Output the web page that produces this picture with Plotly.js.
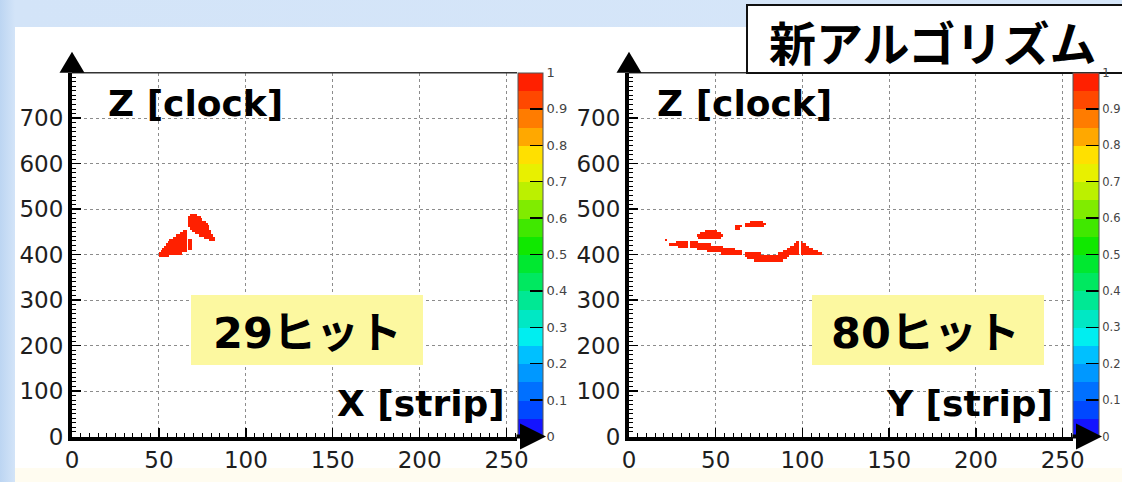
<!DOCTYPE html>
<html>
<head>
<meta charset="utf-8">
<script src="https://cdn.plot.ly/plotly-3.0.1.min.js"></script>
<style>
  html, body { margin: 0; padding: 0; overflow: hidden; width: 1122px; height: 482px; }
  #wrap {
    width: 1122px; height: 482px; overflow: hidden; position: relative;
    background: linear-gradient(to right, #bcd5f2 0px, #d3e4f8 15px, #d6e6f9 100%);
  }
  #chart { width: 1150px; height: 482px; }
</style>
</head>
<body>
<div id="wrap"><div id="chart"></div></div>
<script>
// ---------------- data ----------------
// Hit runs: [z bin lower edge (clock), first strip, last strip]
const xHitRuns = [
  [395, 50, 55], [400, 50, 62], [405, 51, 65],
  [410, 52, 65], [410, 67, 68], [415, 53, 65], [415, 67, 68],
  [420, 54, 65], [420, 67, 68], [425, 55, 65], [425, 67, 68],
  [430, 56, 65], [430, 67, 68], [435, 58, 65], [440, 60, 65],
  [445, 62, 65], [450, 64, 65],
  [485, 68, 71], [480, 67, 73], [475, 67, 74], [470, 67, 76],
  [465, 67, 77], [460, 67, 78], [455, 68, 78], [450, 69, 79],
  [445, 71, 79], [440, 73, 80], [435, 76, 81], [430, 79, 81]
];
const yHitRuns = [
  [430, 21, 21],
  [425, 27, 33], [420, 23, 33], [415, 28, 33],
  [425, 35, 39], [420, 35, 46], [415, 35, 53], [410, 39, 60], [405, 45, 64], [400, 53, 64],
  [400, 67, 75], [395, 67, 91], [390, 68, 90], [385, 72, 88],
  [400, 86, 97], [405, 89, 97], [410, 91, 97], [415, 93, 97], [420, 95, 97], [425, 96, 97],
  [425, 99, 99], [420, 99, 101], [415, 99, 103], [410, 99, 105], [405, 99, 108], [400, 99, 110],
  [450, 44, 50], [445, 41, 52], [440, 39, 53], [435, 40, 52],
  [455, 61, 63], [460, 61, 64], [460, 67, 77], [465, 67, 78], [470, 70, 76]
];
const xTickVals = [0, 50, 100, 150, 200, 250];
const xTickText = ['0', '50', '100', '150', '200', '250'];
const zTickVals = [0, 100, 200, 300, 400, 500, 600, 700];
const zTickText = ['0', '100', '200', '300', '400', '500', '600', '700'];
const stripMax = 256, clockMax = 800;
const leftTitle = 'X [strip]', rightTitle = 'Y [strip]', zTitle = 'Z [clock]';
const leftHits = '29ヒット', rightHits = '80ヒット';
const headline = '新アルゴリズム';
// ROOT-like rainbow palette, 20 levels from 0 to 1
const paletteColors = ['#1414ff', '#0048ff', '#0070ff', '#0098ff', '#00c0ff',
  '#00eef0', '#00e8c4', '#00e894', '#00e860', '#00e830',
  '#10e800', '#40e800', '#80ec00', '#bcf000', '#e8f000',
  '#ffe000', '#ffa800', '#ff7c00', '#ff4800', '#ff2000'];

// ---------------- build ----------------
const NX = 256, ZBIN = 5, NZ = clockMax / ZBIN;
function buildGrid(runs) {
  const g = Array.from({ length: NZ }, () => new Array(NX).fill(null));
  runs.forEach(([zc, a, b]) => {
    const r = Math.round(zc / ZBIN);
    for (let i = a; i <= b; i++) g[r][i] = 1;
  });
  return g;
}
const colorscale = [];
paletteColors.forEach((c, i) => {
  colorscale.push([i / paletteColors.length, c]);
  colorscale.push([(i + 1) / paletteColors.length, c]);
});

// paper is 1150 wide (clipped to the 1122 window) so the right colour bar needs no extra margin
const W = 1150, H = 482;
const px = v => v / W;
const py = v => 1 - v / H;
const yDom = [py(436.5), py(72.7)];
const xDomL = [px(72), px(517)];
const xDomR = [px(629), px(1073)];

function colorbar(xpos, thick, fsize) {
  return {
    x: xpos, xanchor: 'left', xpad: 0, ypad: 0,
    y: yDom[0], yanchor: 'bottom', len: yDom[1] - yDom[0], lenmode: 'fraction',
    thickness: thick, thicknessmode: 'pixels',
    outlinewidth: 1, outlinecolor: '#555',
    tick0: 0, dtick: 0.1, ticks: 'inside', ticklen: 13, tickwidth: 1.5, tickcolor: '#000',
    tickfont: { family: 'DejaVu Sans', size: fsize, color: '#444' }
  };
}
function heat(runs, xa, ya, cb) {
  return {
    type: 'heatmap', z: buildGrid(runs), x0: 0.5, dx: 1, y0: ZBIN / 2, dy: ZBIN,
    xaxis: xa, yaxis: ya, zmin: 0, zmax: 1, zsmooth: false,
    colorscale: colorscale, colorbar: cb, hoverinfo: 'skip'
  };
}
const traces = [
  heat(xHitRuns, 'x', 'y', colorbar(px(518), 25, 13)),
  heat(yHitRuns, 'x2', 'y2', colorbar(px(1073), 26, 11.5))
];

const tickFont = { family: 'DejaVu Sans', size: 23, color: '#1e1e1e' };
function xAxis(domain, anchor) {
  return {
    domain, anchor, range: [0, stripMax], fixedrange: true,
    tickvals: xTickVals, ticktext: xTickText, tickfont: tickFont,
    showline: true, linewidth: 4, linecolor: '#000',
    ticks: 'inside', ticklen: 9, tickwidth: 1.5, tickcolor: '#000',
    showgrid: true, gridcolor: '#8c8c8c', griddash: 'dot', gridwidth: 1, zeroline: false,
    minor: { tick0: 0, dtick: 5, ticks: 'inside', ticklen: 4, tickwidth: 1, tickcolor: '#000', showgrid: false }
  };
}
function yAxis(anchor) {
  return {
    domain: yDom, anchor, range: [0, clockMax], fixedrange: true,
    tickvals: zTickVals, ticktext: zTickText, tickfont: tickFont,
    showline: true, linewidth: 4, linecolor: '#000',
    ticks: 'inside', ticklen: 9, tickwidth: 1.5, tickcolor: '#000',
    showgrid: true, gridcolor: '#8c8c8c', griddash: 'dot', gridwidth: 1, zeroline: false,
    minor: { tick0: 0, dtick: 10, ticks: 'inside', ticklen: 4, tickwidth: 1, tickcolor: '#000', showgrid: false }
  };
}

function panelShapes(xs, ys) {
  const xd = xs + ' domain', yd = ys + ' domain';
  return [
    { type: 'line', xref: xd, yref: yd, x0: 0, x1: 1, y0: 1, y1: 1, line: { color: '#333', width: 1.5 }, layer: 'above' },
    { type: 'path', xref: xd, yref: yd, xsizemode: 'pixel', ysizemode: 'pixel', xanchor: 0, yanchor: 1,
      path: 'M -12.5,0 L 12.5,0 L 0,21 Z', fillcolor: '#000', line: { width: 0 }, layer: 'above' }
  ];
}
// x-axis arrow drawn as an annotation so that it sits on top of the colour bar
function xArrow(xs, ys) {
  return { text: '', xref: xs + ' domain', yref: ys + ' domain', x: 1, y: 0, xshift: 29,
    showarrow: true, axref: 'pixel', ayref: 'pixel', ax: -31, ay: 0,
    arrowhead: 2, arrowsize: 1.3, arrowwidth: 4, arrowcolor: '#000', standoff: 0 };
}
function yellowBox(x0, x1) {
  return { type: 'rect', xref: 'paper', yref: 'paper', x0: px(x0), x1: px(x1), y0: py(365), y1: py(295),
    fillcolor: '#fcf8a0', line: { width: 0 }, layer: 'above' };
}
const shapes = [
  { type: 'rect', xref: 'paper', yref: 'paper', x0: px(15), x1: 1, y0: 0, y1: py(27),
    fillcolor: '#ffffff', line: { width: 0 }, layer: 'below' },
  { type: 'rect', xref: 'paper', yref: 'paper', x0: px(15), x1: 1, y0: 0, y1: py(468),
    fillcolor: '#fffcf0', line: { width: 0 }, layer: 'below' },
  ...panelShapes('x', 'y'),
  ...panelShapes('x2', 'y2'),
  yellowBox(191, 423),
  yellowBox(812, 1044),
  { type: 'rect', xref: 'paper', yref: 'paper', x0: px(747), x1: 1, y0: py(73), y1: py(5),
    fillcolor: '#ffffff', line: { color: '#111', width: 2 }, layer: 'above' }
];

const boldFont = s => ({ family: 'DejaVu Sans, Noto Sans CJK JP', size: s, color: '#000', weight: 'bold' });
function label(text, x, y, size) {
  return { text, xref: 'paper', yref: 'paper', x: px(x), y: py(y), xanchor: 'center', yanchor: 'middle',
    showarrow: false, font: boldFont(size) };
}
const annotations = [
  label(zTitle, 195, 103, 36),
  label(zTitle, 744, 103, 36),
  label(leftTitle, 421, 403, 36),
  label(rightTitle, 969, 403, 36),
  label(leftHits, 308, 333, 43),
  label(rightHits, 925, 333, 43),
  { text: headline, xref: 'paper', yref: 'paper', x: px(933), y: py(40), xanchor: 'center', yanchor: 'middle',
    showarrow: false, font: { family: 'Noto Sans CJK JP', size: 47, color: '#000', weight: 'bold' } },
  xArrow('x', 'y'),
  xArrow('x2', 'y2')
];

const layout = {
  width: W, height: H, autosize: false,
  margin: { l: 0, r: 0, t: 0, b: 0, pad: 0 },
  paper_bgcolor: 'rgba(0,0,0,0)', plot_bgcolor: '#ffffff',
  showlegend: false,
  xaxis: xAxis(xDomL, 'y'), yaxis: yAxis('x'),
  xaxis2: xAxis(xDomR, 'y2'), yaxis2: yAxis('x2'),
  shapes, annotations
};
Plotly.newPlot('chart', traces, layout, { displayModeBar: false, staticPlot: true });
</script>
</body>
</html>
